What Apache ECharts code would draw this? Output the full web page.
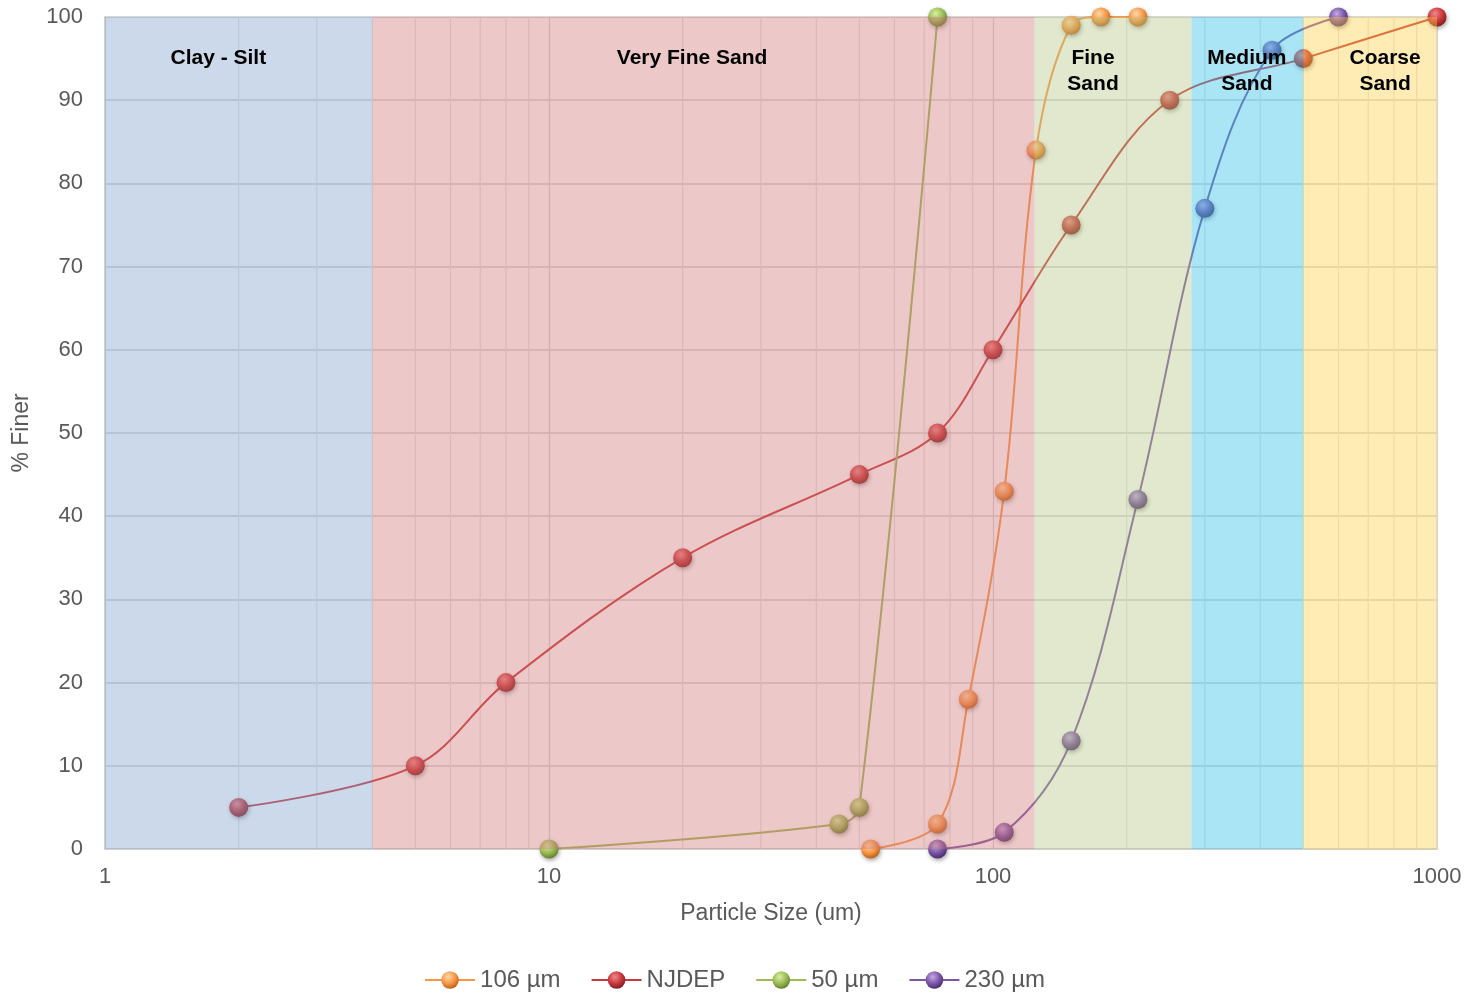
<!DOCTYPE html>
<html>
<head>
<meta charset="utf-8">
<title>Particle Size Distribution</title>
<script src="https://cdn.jsdelivr.net/npm/echarts@6/dist/echarts.min.js"></script>
<style>
  html, body { margin: 0; padding: 0; background: #ffffff; }
  #chart { width: 1469px; height: 994px; }
</style>
</head>
<body>
<div id="chart"></div>
<script>
// ---- Gradation data: particle size (um) vs. percent finer ----
const seriesNames = ['106 µm', 'NJDEP', '50 µm', '230 µm'];

const size106 = [53, 75, 88, 106, 125, 150, 175, 212];
const finer106 = [0, 3, 18, 43, 84, 99, 100, 100];

const sizeNJDEP = [2, 5, 8, 20, 50, 75, 100, 150, 250, 500, 1000];
const finerNJDEP = [5, 10, 20, 35, 45, 50, 60, 75, 90, 95, 100];

const size50 = [10, 45, 50, 75];
const finer50 = [0, 3, 5, 100];

const size230 = [75, 106, 150, 212, 300, 425, 600];
const finer230 = [0, 2, 13, 42, 77, 96, 100];

// Soil classification bands (boundaries in um) and their captions
const bandNames = ['Clay - Silt', 'Very Fine Sand', 'Fine\nSand', 'Medium\nSand', 'Coarse\nSand'];
const bandEdges = [1, 4, 124, 280, 500, 1000];
const bandCaptionAt = [1.8, 21, 168, 373, 764];

// Logarithmic minor grid values
const minorGrid = [2, 3, 4, 5, 6, 7, 8, 9, 20, 30, 40, 50, 60, 70, 80, 90, 200, 300, 400, 500, 600, 700, 800, 900];

// ---- Styling ----
const seriesColors = {
  '106 µm': { light: '#ffd9a8', base: '#f79646', dark: '#b65c14' },
  'NJDEP':  { light: '#f08a8a', base: '#c8383c', dark: '#7d1a1e' },
  '50 µm':  { light: '#d8ef9c', base: '#9bbb59', dark: '#5f7a26' },
  '230 µm': { light: '#c3a8e6', base: '#7b56a6', dark: '#44286a' }
};
const bandFills = [
  'rgba(127,160,202,0.4)',
  'rgba(207,117,117,0.4)',
  'rgba(180,197,130,0.4)',
  'rgba(50,192,232,0.42)',
  'rgba(255,205,67,0.4)'
];
const FONT = '"Liberation Sans", Arial, sans-serif';

function ball(c) {
  return {
    type: 'radial', x: 0.4, y: 0.32, r: 0.72,
    colorStops: [
      { offset: 0, color: c.light },
      { offset: 0.55, color: c.base },
      { offset: 1, color: c.dark }
    ]
  };
}

function curve(name, xs, ys) {
  const c = seriesColors[name];
  return {
    name: name,
    type: 'line',
    data: xs.map((x, i) => [x, ys[i]]),
    smooth: 0.35,
    clip: false,
    z: 3,
    symbol: 'circle',
    symbolSize: 19,
    lineStyle: { color: c.base, width: 2 },
    itemStyle: {
      color: ball(c),
      borderWidth: 0,
      shadowBlur: 4,
      shadowColor: 'rgba(0,0,0,0.35)',
      shadowOffsetX: 1,
      shadowOffsetY: 2
    },
    emphasis: { disabled: true }
  };
}

const chart = echarts.init(document.getElementById('chart'), null, { renderer: 'canvas' });

const option = {
  backgroundColor: '#ffffff',
  animation: false,
  textStyle: { fontFamily: FONT },
  grid: {
    left: 105, right: 32, top: 17, bottom: 145,
    show: true, borderColor: '#d9d9d9', borderWidth: 1, backgroundColor: 'transparent'
  },
  legend: {
    data: seriesNames,
    bottom: -3,
    left: 'center',
    itemWidth: 50,
    itemHeight: 22,
    itemGap: 30,
    textStyle: { fontSize: 24, color: '#595959', fontFamily: FONT }
  },
  xAxis: {
    type: 'log',
    logBase: 10,
    min: 1,
    max: 1000,
    name: 'Particle Size (um)',
    nameLocation: 'middle',
    nameGap: 53,
    nameTextStyle: { fontSize: 23, color: '#595959', fontFamily: FONT },
    axisLine: { show: true, lineStyle: { color: '#d0d0d0', width: 2 } },
    axisTick: { show: false },
    axisLabel: {
      fontSize: 22, color: '#595959', margin: 17, fontFamily: FONT,
      formatter: function (v) { return String(Math.round(v)); }
    },
    splitLine: { show: true, lineStyle: { color: '#d4d4d4', width: 1.2 } },
    minorTick: { show: false },
    minorSplitLine: { show: false }
  },
  yAxis: {
    type: 'value',
    min: 0,
    max: 100,
    interval: 10,
    name: '% Finer',
    nameLocation: 'middle',
    nameGap: 72,
    nameTextStyle: { fontSize: 23, color: '#595959', fontFamily: FONT },
    axisLine: { show: true, lineStyle: { color: '#d0d0d0', width: 2 } },
    axisTick: { show: false },
    axisLabel: { fontSize: 22, color: '#595959', margin: 22, fontFamily: FONT },
    splitLine: { show: true, lineStyle: { color: '#d2d2d2', width: 1.5 } }
  },
  series: [
    // minor vertical grid lines (log subdivisions)
    {
      type: 'custom',
      name: 'minor-grid',
      silent: true,
      z: 1,
      data: minorGrid.map(v => [v, 0]),
      encode: { x: 0, y: 1 },
      renderItem: function (params, api) {
        const top = api.coord([api.value(0), 100]);
        const bottom = api.coord([api.value(0), 0]);
        return {
          type: 'line',
          shape: { x1: top[0], y1: top[1], x2: bottom[0], y2: bottom[1] },
          style: { stroke: '#e3e3e3', lineWidth: 1.2 }
        };
      }
    },
    curve('106 µm', size106, finer106),
    curve('NJDEP', sizeNJDEP, finerNJDEP),
    curve('50 µm', size50, finer50),
    curve('230 µm', size230, finer230),
    // translucent classification bands drawn over the curves
    {
      type: 'custom',
      name: 'bands',
      silent: true,
      z: 10,
      data: bandNames.map((n, i) => [bandEdges[i], bandEdges[i + 1], bandCaptionAt[i], i]),
      encode: { x: [0, 1, 2] },
      renderItem: function (params, api) {
        const i = api.value(3);
        const tl = api.coord([api.value(0), 100]);
        const br = api.coord([api.value(1), 0]);
        const cx = api.coord([api.value(2), 100])[0];
        return {
          type: 'group',
          children: [
            {
              type: 'rect',
              shape: { x: tl[0], y: tl[1], width: br[0] - tl[0], height: br[1] - tl[1] },
              style: { fill: bandFills[i] }
            },
            {
              type: 'text',
              x: cx,
              y: tl[1] + 28,
              z2: 100,
              style: {
                text: bandNames[i],
                fill: '#000000',
                font: 'bold 21px ' + FONT,
                align: 'center',
                verticalAlign: 'top',
                lineHeight: 26
              }
            }
          ]
        };
      }
    }
  ]
};

chart.setOption(option);
</script>
</body>
</html>
